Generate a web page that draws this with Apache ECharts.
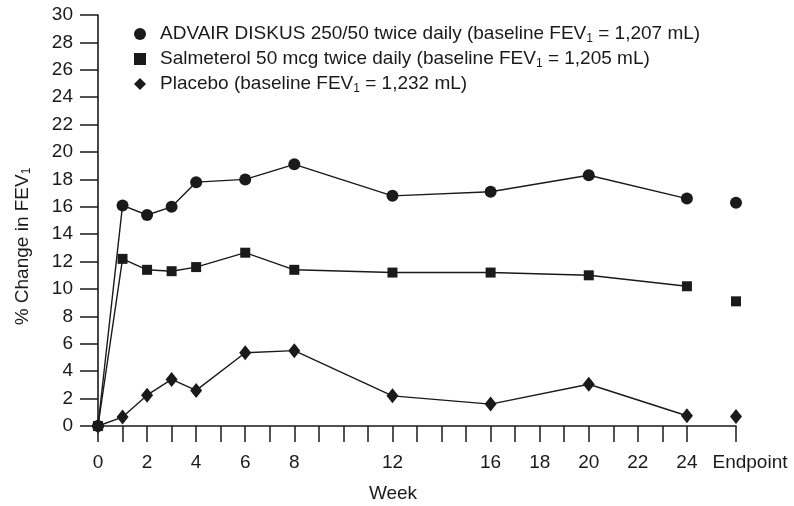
<!DOCTYPE html>
<html>
<head>
<meta charset="utf-8">
<script src="https://cdn.jsdelivr.net/npm/echarts@6/dist/echarts.min.js"></script>
<style>html,body{margin:0;padding:0;background:#fff}#c{width:794px;height:506px}</style>
</head>
<body>
<div id="c"></div>
<script>
var weeks = [0, 1, 2, 3, 4, 6, 8, 12, 16, 20, 24];
var endpointX = 26;
var advair = [0, 16.1, 15.4, 16.0, 17.8, 18.0, 19.1, 16.8, 17.1, 18.3, 16.6];
var advairEnd = 16.3;
var salmeterol = [0, 12.2, 11.4, 11.3, 11.6, 12.65, 11.4, 11.2, 11.2, 11.0, 10.2];
var salmeterolEnd = 9.1;
var placebo = [0, 0.65, 2.25, 3.4, 2.6, 5.35, 5.5, 2.2, 1.6, 3.05, 0.75];
var placeboEnd = 0.7;
var xTickValues = [0,1,2,3,4,5,6,7,8,9,10,11,12,13,14,15,16,17,18,19,20,21,22,23,24,26];
var xLabelValues = [0,2,4,6,8,12,16,18,20,22,24,26];
var xLabelText = {26: '{e|Endpoint}'};
var names = [
  'ADVAIR DISKUS 250/50 twice daily (baseline FEV{s|1} = 1,207 mL)',
  'Salmeterol 50 mcg twice daily (baseline FEV{s|1} = 1,205 mL)',
  'Placebo (baseline FEV{s|1} = 1,232 mL)'
];
var symbols = ['circle', 'rect', 'diamond'];
var sizes = [12, [10, 10], [12, 15]];
var FONT = '"Liberation Sans Narrow", "Arial Narrow", "Liberation Sans", Arial, sans-serif';
var INK = '#1a1a1a';
var FS = 19;

function pairs(xs, ys) { return xs.map(function (x, i) { return [x, ys[i]]; }); }

var lineData = [advair, salmeterol, placebo];
var endData = [advairEnd, salmeterolEnd, placeboEnd];
var series = [];
for (var i = 0; i < 3; i++) {
  series.push({
    name: names[i], type: 'line', data: pairs(weeks, lineData[i]),
    symbol: symbols[i], symbolSize: sizes[i],
    lineStyle: {color: INK, width: 1.4}, itemStyle: {color: INK, opacity: 1},
    z: 3, animation: false
  });
  series.push({
    name: names[i], type: 'scatter', data: [[endpointX, endData[i]]],
    symbol: symbols[i], symbolSize: sizes[i],
    itemStyle: {color: INK, opacity: 1}, z: 3, animation: false
  });
}

var subRich = {s: {fontFamily: FONT, fontSize: 12, color: INK, verticalAlign: 'bottom', padding: [9, 0, 0, 0]}};

var chart = echarts.init(document.getElementById('c'));
chart.setOption({
  backgroundColor: '#fff',
  animation: false,
  grid: {left: 98, right: 58, top: 15, bottom: 80, containLabel: false, outerBoundsMode: 'none'},
  legend: {
    orient: 'vertical', left: 129, top: 18, itemGap: 3,
    itemWidth: 12, itemHeight: 12,
    data: names.map(function (n, i) {
      return {name: n, icon: symbols[i], itemStyle: {color: INK, opacity: 1}};
    }),
    textStyle: {
      fontFamily: FONT, fontSize: FS, color: INK, lineHeight: 22, padding: [0, 0, 0, 9],
      rich: subRich
    }
  },
  xAxis: {
    type: 'value', min: 0, max: 26, interval: 1,
    name: 'Week', nameLocation: 'middle', nameGap: 58,
    nameTextStyle: {fontFamily: FONT, fontSize: FS, color: INK, padding: [0, 48, 0, 0]},
    axisLine: {show: true, onZero: false, lineStyle: {color: INK, width: 1.6}},
    axisTick: {show: true, inside: false, length: 16, customValues: xTickValues, lineStyle: {color: INK, width: 1.5}},
    axisLabel: {
      customValues: xLabelValues, margin: 27,
      fontFamily: FONT, fontSize: FS, color: INK,
      rich: {e: {fontFamily: FONT, fontSize: FS, color: INK, padding: [0, 0, 0, 28]}},
      formatter: function (v) { return xLabelText[v] || String(v); }
    },
    splitLine: {show: false}
  },
  yAxis: {
    type: 'value', min: 0, max: 30, interval: 2,
    name: '% Change in FEV{s|1}', nameLocation: 'middle', nameGap: 65,
    nameTextStyle: {
      fontFamily: FONT, fontSize: FS, color: INK, padding: [0, 52, 0, 0],
      rich: subRich
    },
    axisLine: {show: true, lineStyle: {color: INK, width: 1.6}},
    axisTick: {show: true, inside: false, length: 18, lineStyle: {color: INK, width: 1.5}},
    axisLabel: {margin: 25, fontFamily: FONT, fontSize: FS, color: INK},
    splitLine: {show: false}
  },
  series: series
});
</script>
</body>
</html>
